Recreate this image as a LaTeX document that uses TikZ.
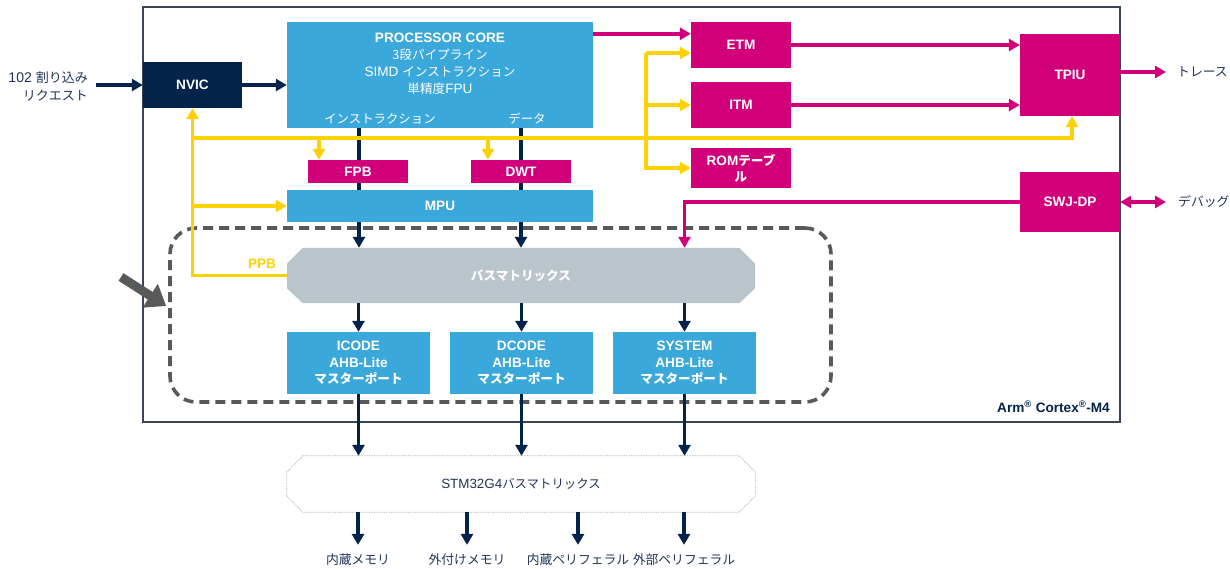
\documentclass[tikz,border=0pt]{standalone}
\usepackage{fontspec}
\setmainfont{Liberation Sans}[Scale=1.08]
\newfontfamily\jp{Noto Sans CJK JP}
\usetikzlibrary{arrows.meta,calc}
\definecolor{navy}{HTML}{03234B}
\definecolor{txtnavy}{HTML}{22335A}
\definecolor{lblue}{HTML}{3AA8DA}
\definecolor{mag}{HTML}{D1007A}
\definecolor{yel}{HTML}{FFD100}
\definecolor{busgray}{HTML}{BAC4CB}
\definecolor{dgray}{HTML}{58595B}
\definecolor{frame}{HTML}{3B4556}
\begin{document}
\begin{tikzpicture}[x=1pt,y=-1pt,
  blk/.style={inner sep=0, align=center, text=white, font=\fontsize{12.6}{15}\selectfont\bfseries},
  nvbox/.style={blk, fill=navy},
  bluebox/.style={blk, fill=lblue},
  magbox/.style={blk, fill=mag},
  lab/.style={inner sep=0, text=txtnavy, font=\fontsize{12.6}{18}\selectfont},
  nvarr/.style={draw=navy, line width=3.6pt, -{Triangle[length=11pt,width=12pt]}},
  magline/.style={draw=mag, line width=3.6pt},
  magarr/.style={magline, -{Triangle[length=11pt,width=12pt]}},
  ylline/.style={draw=yel, line width=3.6pt},
  ylarr/.style={ylline, -{Triangle[length=11pt,width=12pt]}},
  dashbox/.style={draw=dgray, line width=3.6pt, dash pattern=on 10pt off 6pt, rounded corners=26pt, inner sep=0}
]
\useasboundingbox (0,0) rectangle (1230,569);

% outer Cortex frame
\node[draw=frame, line width=1.3pt, minimum width=977, minimum height=415, inner sep=0] (cortex) at (631.5,214.5) {};
\node[anchor=base east, inner sep=0, text=navy, font=\fontsize{12.6}{14}\selectfont\bfseries] (arm) at (1110,412) {Arm\textsuperscript{®} Cortex\textsuperscript{®}-M4};

% dashed region
\node[dashbox, minimum width=661, minimum height=174] (dz) at (500.5,315) {};

% blocks
\node[nvbox, minimum width=99, minimum height=46] (nvic) at (192.5,85) {NVIC};
\node[bluebox, minimum width=306, minimum height=106] (core) at (440,75) {};
\node[blk, font=\fontsize{12.6}{17}\selectfont] (coretxt) at (440,64) {\textbf{PROCESSOR CORE}\\{\jp 3段パイプライン}\\SIMD {\jp インストラクション}\\{\jp 単精度}FPU};
\node[blk, font=\fontsize{12.4}{14}\selectfont\jp] (instr) at (380,119) {インストラクション};
\node[blk, font=\fontsize{12.4}{14}\selectfont\jp] (data) at (527,119) {データ};

\node[magbox, minimum width=100, minimum height=46] (etm) at (741,45) {ETM};
\node[magbox, minimum width=100, minimum height=46] (itm) at (741,105) {ITM};
\node[magbox, minimum width=100, minimum height=40, font=\fontsize{12.6}{16}\selectfont\bfseries] (rom) at (741,168) {ROM{\jp テーブ}\\{\jp ル}};
\node[magbox, minimum width=100, minimum height=82] (tpiu) at (1070,75) {TPIU};
\node[magbox, minimum width=100, minimum height=60] (swj) at (1070,202) {SWJ-DP};

\node[magbox, minimum width=100, minimum height=23] (fpb) at (358,171.5) {FPB};
\node[magbox, minimum width=100, minimum height=23] (dwt) at (521,171.5) {DWT};
\node[bluebox, minimum width=306, minimum height=32] (mpu) at (440,206) {MPU};

% bus matrix
\node[inner sep=0, minimum width=468, minimum height=55] (bm) at (521,275.5) {};
\fill[busgray] ([xshift=16pt]bm.north west) -- ([xshift=-16pt]bm.north east) -- ([yshift=-16pt]bm.north east)
  -- ([yshift=15pt]bm.south east) -- ([xshift=-16pt]bm.south east) -- ([xshift=16pt]bm.south west)
  -- ([yshift=15pt]bm.south west) -- ([yshift=-16pt]bm.north west) -- cycle;
\node[blk, font=\fontsize{12.6}{15}\selectfont\bfseries\jp] (bmtxt) at (bm) {バスマトリックス};
\node[inner sep=0, text=yel, font=\fontsize{12.6}{15}\selectfont\bfseries] (ppb) at (262,263.5) {PPB};

% master ports
\node[bluebox, minimum width=143, minimum height=62, font=\fontsize{12.6}{16.5}\selectfont\bfseries] (ic) at (358.5,363) {ICODE\\AHB-Lite\\{\jp マスターポート}};
\node[bluebox, minimum width=143, minimum height=62, font=\fontsize{12.6}{16.5}\selectfont\bfseries] (dc) at (521.5,363) {DCODE\\AHB-Lite\\{\jp マスターポート}};
\node[bluebox, minimum width=143, minimum height=62, font=\fontsize{12.6}{16.5}\selectfont\bfseries] (sy) at (684.5,363) {SYSTEM\\AHB-Lite\\{\jp マスターポート}};

% STM32G4 bus matrix
\node[inner sep=0, minimum width=468, minimum height=56] (stm) at (521,484) {};
\filldraw[fill=white, draw=gray!75, line width=0.7pt, densely dotted] ([xshift=16pt]stm.north west) -- ([xshift=-16pt]stm.north east) -- ([yshift=-16pt]stm.north east)
  -- ([yshift=16pt]stm.south east) -- ([xshift=-16pt]stm.south east) -- ([xshift=16pt]stm.south west)
  -- ([yshift=16pt]stm.south west) -- ([yshift=-16pt]stm.north west) -- cycle;
\node[lab, font=\fontsize{12.4}{14}\selectfont] (stmtxt) at (stm) {STM32G4{\jp バスマトリックス}};

% outside labels
\node[lab, align=right, anchor=east, font=\fontsize{13}{18}\selectfont] (irq) at (88,86) {102 {\jp 割り込み}\\{\jp リクエスト}};
\node[lab, anchor=west, font=\fontsize{12.8}{14}\selectfont\jp] (tr) at (1177,72) {トレース};
\node[lab, anchor=west, font=\fontsize{12.8}{14}\selectfont\jp] (dbg) at (1178,202) {デバッグ};
\node[lab, font=\fontsize{12.8}{14}\selectfont\jp] (o1) at (358,560) {内蔵メモリ};
\node[lab, font=\fontsize{12.8}{14}\selectfont\jp] (o2) at (467,560) {外付けメモリ};
\node[lab, font=\fontsize{12.8}{14}\selectfont\jp] (o3) at (578,560) {内蔵ペリフェラル};
\node[lab, font=\fontsize{12.8}{14}\selectfont\jp] (o4) at (684,560) {外部ペリフェラル};

% navy connectors
\draw[nvarr, shorten <=8pt] (irq.east |- nvic.west) -- (nvic.west);
\draw[nvarr] (nvic.east) -- (nvic.east -| core.west);
\draw[draw=navy, line width=3.6pt] ([xshift=1pt]core.south -| fpb.north) -- ([xshift=1pt]fpb.north);
\draw[draw=navy, line width=3.6pt] ([xshift=1pt]fpb.south) -- ([xshift=1pt]fpb.south |- mpu.north);
\draw[nvarr] ([xshift=1pt]mpu.south -| fpb.south) -- ([xshift=1pt]bm.north -| fpb.south);
\draw[draw=navy, line width=3.6pt] (core.south -| dwt.north) -- (dwt.north);
\draw[draw=navy, line width=3.6pt] (dwt.south) -- (dwt.south |- mpu.north);
\draw[nvarr] (mpu.south -| dwt.south) -- (bm.north -| dwt.south);
\foreach \p in {ic,dc,sy}{
  \draw[nvarr] (bm.south -| \p.north) -- (\p.north);
  \draw[nvarr] (\p.south) -- (stm.north -| \p.south);
}
\foreach \o in {o1,o2,o3,o4}{
  \draw[nvarr, shorten >=9pt] (stm.south -| \o.north) -- (\o.north);
}

% magenta connectors
\draw[magarr] ([yshift=-12pt]core.north east) -- ([yshift=-12pt]etm.north west);
\draw[magarr] (etm.east) -- (etm.east -| tpiu.west);
\draw[magarr] (itm.east) -- (itm.east -| tpiu.west);
\draw[magarr, shorten >=11pt] (tpiu.east |- tr.west) -- (tr.west);
\draw[magline, {Triangle[length=11pt,width=12pt]}-{Triangle[length=11pt,width=12pt]}, shorten >=12pt] (swj.east) -- (dbg.west);
\draw[magarr] (swj.west) -| (bm.north -| sy.north);

% yellow connectors
\coordinate (yb) at (192.5,138);
\coordinate (yt) at (646,53);
\draw[ylarr] (yb) -| ([xshift=2pt]tpiu.south);
\draw[ylarr] (bm.west) -| (nvic.south);
\draw[ylarr] (nvic.south |- mpu.west) -- (mpu.west);
\draw[ylarr] ([xshift=-39pt]fpb.north |- yb) -- ([xshift=-39pt]fpb.north);
\draw[ylarr] ([xshift=-33pt]dwt.north |- yb) -- ([xshift=-33pt]dwt.north);
\draw[ylarr] (yt) -- (yt -| etm.west);
\draw[ylarr] (yt) |- (rom.west);
\draw[ylarr] (yt |- itm.west) -- (itm.west);

% grey pointer arrow
\coordinate (ga) at (121,277);
\draw[draw=dgray, line width=9pt, -{Triangle[length=19pt,width=27pt]}] (ga) -- ([xshift=-2pt]dz.west |- 0,306);
\end{tikzpicture}
\end{document}
